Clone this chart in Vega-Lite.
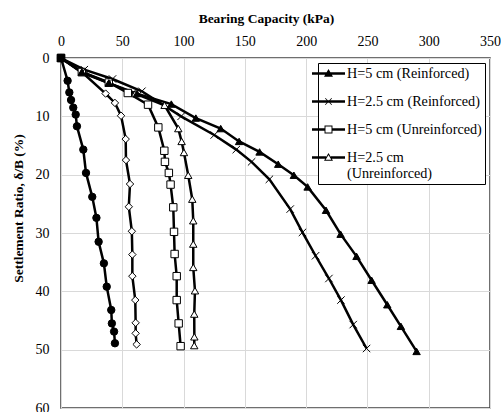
{
  "$schema": "https://vega.github.io/schema/vega-lite/v6.json",
  "width": 429,
  "height": 350,
  "autosize": {"type": "none"},
  "padding": {"left": 61, "top": 58, "right": 11, "bottom": 4},
  "background": "white",
  "config": {
    "view": {"stroke": "#404040", "strokeWidth": 1.5},
    "font": "Liberation Serif",
    "axis": {"labelFont": "Liberation Serif", "titleFont": "Liberation Serif"},
    "legend": {"labelFont": "Liberation Serif"}
  },
  "data": {
    "values": [
      {"series": "Series O", "bc": 0, "sr": 0},
      {"series": "Series O", "bc": 5.4, "sr": 3.9},
      {"series": "Series O", "bc": 6.8, "sr": 5.9},
      {"series": "Series O", "bc": 8.2, "sr": 7.2},
      {"series": "Series O", "bc": 10, "sr": 8.5},
      {"series": "Series O", "bc": 12, "sr": 9.7},
      {"series": "Series O", "bc": 13, "sr": 11.7},
      {"series": "Series O", "bc": 18.2, "sr": 15.7},
      {"series": "Series O", "bc": 20.4, "sr": 19.7},
      {"series": "Series O", "bc": 25.5, "sr": 23.8},
      {"series": "Series O", "bc": 28.9, "sr": 27.4},
      {"series": "Series O", "bc": 30.7, "sr": 31.5},
      {"series": "Series O", "bc": 35, "sr": 35.2},
      {"series": "Series O", "bc": 37.3, "sr": 39.2},
      {"series": "Series O", "bc": 41, "sr": 43.2},
      {"series": "Series O", "bc": 41.5, "sr": 45.5},
      {"series": "Series O", "bc": 43.3, "sr": 46.9},
      {"series": "Series O", "bc": 44, "sr": 48.9},
      {"series": "Series D", "bc": 0, "sr": 0},
      {"series": "Series D", "bc": 17, "sr": 2.4},
      {"series": "Series D", "bc": 36.4, "sr": 6.1},
      {"series": "Series D", "bc": 44, "sr": 7.7},
      {"series": "Series D", "bc": 49, "sr": 9.9},
      {"series": "Series D", "bc": 52.8, "sr": 13.9},
      {"series": "Series D", "bc": 53, "sr": 17.5},
      {"series": "Series D", "bc": 56.3, "sr": 21.6},
      {"series": "Series D", "bc": 55.3, "sr": 25.5},
      {"series": "Series D", "bc": 57.8, "sr": 29.7},
      {"series": "Series D", "bc": 58.2, "sr": 33.7},
      {"series": "Series D", "bc": 58.2, "sr": 37.4},
      {"series": "Series D", "bc": 60.6, "sr": 41.5},
      {"series": "Series D", "bc": 60.9, "sr": 45.4},
      {"series": "Series D", "bc": 60.9, "sr": 47.2},
      {"series": "Series D", "bc": 61.7, "sr": 49.1},
      {"series": "H=5 cm (Unreinforced)", "bc": 0, "sr": 0},
      {"series": "H=5 cm (Unreinforced)", "bc": 17, "sr": 2.4},
      {"series": "H=5 cm (Unreinforced)", "bc": 39, "sr": 4.2},
      {"series": "H=5 cm (Unreinforced)", "bc": 54.5, "sr": 6.0},
      {"series": "H=5 cm (Unreinforced)", "bc": 71, "sr": 8.0},
      {"series": "H=5 cm (Unreinforced)", "bc": 79.4, "sr": 11.9},
      {"series": "H=5 cm (Unreinforced)", "bc": 84.3, "sr": 15.9},
      {"series": "H=5 cm (Unreinforced)", "bc": 84.8, "sr": 17.8},
      {"series": "H=5 cm (Unreinforced)", "bc": 88, "sr": 19.7},
      {"series": "H=5 cm (Unreinforced)", "bc": 89.4, "sr": 21.7},
      {"series": "H=5 cm (Unreinforced)", "bc": 91.6, "sr": 25.6},
      {"series": "H=5 cm (Unreinforced)", "bc": 92.2, "sr": 29.8},
      {"series": "H=5 cm (Unreinforced)", "bc": 92.7, "sr": 33.6},
      {"series": "H=5 cm (Unreinforced)", "bc": 94.4, "sr": 37.4},
      {"series": "H=5 cm (Unreinforced)", "bc": 94.4, "sr": 41.5},
      {"series": "H=5 cm (Unreinforced)", "bc": 96, "sr": 45.5},
      {"series": "H=5 cm (Unreinforced)", "bc": 97.6, "sr": 49.4},
      {"series": "H=2.5 cm (Unreinforced)", "bc": 0, "sr": 0},
      {"series": "H=2.5 cm (Unreinforced)", "bc": 17, "sr": 2.5},
      {"series": "H=2.5 cm (Unreinforced)", "bc": 39, "sr": 4.3},
      {"series": "H=2.5 cm (Unreinforced)", "bc": 60.5, "sr": 6.1},
      {"series": "H=2.5 cm (Unreinforced)", "bc": 84.5, "sr": 8.1},
      {"series": "H=2.5 cm (Unreinforced)", "bc": 95.7, "sr": 12.1},
      {"series": "H=2.5 cm (Unreinforced)", "bc": 98.4, "sr": 14.3},
      {"series": "H=2.5 cm (Unreinforced)", "bc": 100.3, "sr": 16.2},
      {"series": "H=2.5 cm (Unreinforced)", "bc": 103.8, "sr": 20.1},
      {"series": "H=2.5 cm (Unreinforced)", "bc": 107.1, "sr": 24.2},
      {"series": "H=2.5 cm (Unreinforced)", "bc": 107.9, "sr": 27.9},
      {"series": "H=2.5 cm (Unreinforced)", "bc": 107.9, "sr": 31.9},
      {"series": "H=2.5 cm (Unreinforced)", "bc": 107.9, "sr": 35.9},
      {"series": "H=2.5 cm (Unreinforced)", "bc": 109.3, "sr": 39.9},
      {"series": "H=2.5 cm (Unreinforced)", "bc": 108.7, "sr": 43.9},
      {"series": "H=2.5 cm (Unreinforced)", "bc": 108.8, "sr": 47.8},
      {"series": "H=2.5 cm (Unreinforced)", "bc": 108.7, "sr": 49.3},
      {"series": "H=2.5 cm (Reinforced)", "bc": 0, "sr": 0},
      {"series": "H=2.5 cm (Reinforced)", "bc": 19, "sr": 2.0},
      {"series": "H=2.5 cm (Reinforced)", "bc": 42, "sr": 3.6},
      {"series": "H=2.5 cm (Reinforced)", "bc": 66, "sr": 5.7},
      {"series": "H=2.5 cm (Reinforced)", "bc": 98, "sr": 10.0},
      {"series": "H=2.5 cm (Reinforced)", "bc": 125, "sr": 13.2},
      {"series": "H=2.5 cm (Reinforced)", "bc": 143, "sr": 15.7},
      {"series": "H=2.5 cm (Reinforced)", "bc": 155.5, "sr": 17.8},
      {"series": "H=2.5 cm (Reinforced)", "bc": 170, "sr": 20.8},
      {"series": "H=2.5 cm (Reinforced)", "bc": 187, "sr": 25.9},
      {"series": "H=2.5 cm (Reinforced)", "bc": 197, "sr": 29.9},
      {"series": "H=2.5 cm (Reinforced)", "bc": 207.7, "sr": 33.9},
      {"series": "H=2.5 cm (Reinforced)", "bc": 218.6, "sr": 37.8},
      {"series": "H=2.5 cm (Reinforced)", "bc": 228.4, "sr": 41.5},
      {"series": "H=2.5 cm (Reinforced)", "bc": 238.4, "sr": 45.7},
      {"series": "H=2.5 cm (Reinforced)", "bc": 249.3, "sr": 49.8},
      {"series": "H=5 cm (Reinforced)", "bc": 0, "sr": 0},
      {"series": "H=5 cm (Reinforced)", "bc": 17, "sr": 2.4},
      {"series": "H=5 cm (Reinforced)", "bc": 39, "sr": 4.3},
      {"series": "H=5 cm (Reinforced)", "bc": 62, "sr": 6.1},
      {"series": "H=5 cm (Reinforced)", "bc": 90, "sr": 7.9},
      {"series": "H=5 cm (Reinforced)", "bc": 110, "sr": 10.3},
      {"series": "H=5 cm (Reinforced)", "bc": 130.3, "sr": 12.1},
      {"series": "H=5 cm (Reinforced)", "bc": 145.3, "sr": 14.3},
      {"series": "H=5 cm (Reinforced)", "bc": 162, "sr": 16.1},
      {"series": "H=5 cm (Reinforced)", "bc": 177.2, "sr": 18.2},
      {"series": "H=5 cm (Reinforced)", "bc": 190, "sr": 20.1},
      {"series": "H=5 cm (Reinforced)", "bc": 201.2, "sr": 22.1},
      {"series": "H=5 cm (Reinforced)", "bc": 216.2, "sr": 26.1},
      {"series": "H=5 cm (Reinforced)", "bc": 228.1, "sr": 30.2},
      {"series": "H=5 cm (Reinforced)", "bc": 241.1, "sr": 34.0},
      {"series": "H=5 cm (Reinforced)", "bc": 253.4, "sr": 38.1},
      {"series": "H=5 cm (Reinforced)", "bc": 266.2, "sr": 42.3},
      {"series": "H=5 cm (Reinforced)", "bc": 277.3, "sr": 46.0},
      {"series": "H=5 cm (Reinforced)", "bc": 290.1, "sr": 50.3},
      {"series": "Origin", "bc": 0, "sr": 0}
    ]
  },
  "encoding": {
    "x": {
      "field": "bc", "type": "quantitative",
      "scale": {"domain": [0, 350], "nice": false},
      "axis": {
        "orient": "top", "values": [0, 50, 100, 150, 200, 250, 300, 350],
        "grid": true, "gridColor": "#d9d9d9", "gridWidth": 1,
        "domain": false, "ticks": false,
        "labelPadding": 10, "labelFont": "Liberation Serif", "labelFontSize": 14, "labelColor": "#000000",
        "labelFlush": false,
        "title": "Bearing Capacity (kPa)", "titleFont": "Liberation Serif", "titleFontSize": 13.5,
        "titleFontWeight": "bold", "titleColor": "#000000", "titlePadding": 9, "titleX": 205
      }
    },
    "y": {
      "field": "sr", "type": "quantitative",
      "scale": {"domain": [0, 60], "reverse": true, "nice": false},
      "axis": {
        "values": [0, 10, 20, 30, 40, 50, 60],
        "grid": true, "gridColor": "#d9d9d9", "gridWidth": 1,
        "domain": false, "ticks": false,
        "labelPadding": 12, "labelFont": "Liberation Serif", "labelFontSize": 14, "labelColor": "#000000",
        "labelFlush": false,
        "title": "Settlement Ratio, δ/B (%)", "titleFont": "Liberation Serif", "titleFontSize": 13.5,
        "titleFontWeight": "bold", "titleColor": "#000000", "titleX": -36, "titleY": 150
      }
    }
  },
  "layer": [
    {
      "transform": [{"filter": "datum.series != 'Origin'"}],
      "mark": {"type": "line", "color": "#000000", "strokeWidth": 2.5},
      "encoding": {
        "detail": {"field": "series", "type": "nominal"},
        "order": {"field": "sr", "type": "quantitative"}
      }
    },
    {
      "mark": {"type": "point", "filled": true, "stroke": "#000000", "strokeWidth": 1, "size": 55, "opacity": 1},
      "encoding": {
        "shape": {
          "field": "series", "type": "nominal", "legend": null,
          "scale": {
            "domain": ["Series O", "Series D", "H=5 cm (Unreinforced)", "H=2.5 cm (Unreinforced)", "H=2.5 cm (Reinforced)", "H=5 cm (Reinforced)", "Origin"],
            "range": ["circle", "diamond", "square", "triangle-up", "M-1,-1L1,1M-1,1L1,-1", "triangle-up", "square"]
          }
        },
        "fill": {
          "field": "series", "type": "nominal", "legend": null,
          "scale": {
            "domain": ["Series O", "Series D", "H=5 cm (Unreinforced)", "H=2.5 cm (Unreinforced)", "H=2.5 cm (Reinforced)", "H=5 cm (Reinforced)", "Origin"],
            "range": ["#000000", "#ffffff", "#ffffff", "#ffffff", "#ffffff", "#000000", "#000000"]
          }
        }
      }
    },
    {
      "data": {
        "values": [
          {"series": "H=5 cm (Reinforced)", "bc": null, "sr": null},
          {"series": "H=2.5 cm (Reinforced)", "bc": null, "sr": null},
          {"series": "H=5 cm (Unreinforced)", "bc": null, "sr": null},
          {"series": "H=2.5 cm (Unreinforced)", "bc": null, "sr": null}
        ]
      },
      "mark": {"type": "point", "filled": true, "color": "#000000", "strokeWidth": 0, "size": 225, "opacity": 1},
      "encoding": {
        "shape": {
          "field": "series", "type": "nominal",
          "scale": {
            "domain": ["H=5 cm (Reinforced)", "H=2.5 cm (Reinforced)", "H=5 cm (Unreinforced)", "H=2.5 cm (Unreinforced)"],
            "range": [
              "M-2.2,-0.16H2.2V0.16H-2.2Z M0,-0.6L0.6,0.43H-0.6Z",
              "M-2.2,-0.16H2.2V0.16H-2.2Z M-0.4,-0.47L0.47,0.4L0.4,0.47L-0.47,-0.4Z M-0.47,0.4L0.4,-0.47L0.47,-0.4L-0.4,0.47Z",
              "M-2.2,-0.16H-0.47V0.16H-2.2Z M0.47,-0.16H2.2V0.16H0.47Z M-0.53,-0.53H0.53V0.53H-0.53Z M-0.4,-0.4V0.4H0.4V-0.4Z",
              "M-2.2,-0.16H-0.31V0.16H-2.2Z M0.31,-0.16H2.2V0.16H0.31Z M0,-0.6L0.6,0.43H-0.6Z M0,-0.34L-0.38,0.31H0.38Z"
            ]
          },
          "legend": {
            "title": null,
            "orient": "none", "legendX": 257, "legendY": 5,
            "strokeColor": "#000000", "fillColor": "#ffffff", "padding": 3,
            "symbolSize": 225, "symbolFillColor": "#000000", "symbolStrokeWidth": 0, "symbolOpacity": 1,
            "labelFont": "Liberation Serif", "labelFontSize": 14.2, "labelColor": "#000000",
            "labelOffset": 11, "labelLimit": 0, "rowPadding": 13,
            "labelExpr": "datum.label == 'H=2.5 cm (Unreinforced)' ? ['H=2.5 cm', '(Unreinforced)'] : datum.label"
          }
        }
      }
    }
  ],
  "resolve": {"scale": {"shape": "independent", "fill": "independent"}, "legend": {"shape": "independent"}}
}
